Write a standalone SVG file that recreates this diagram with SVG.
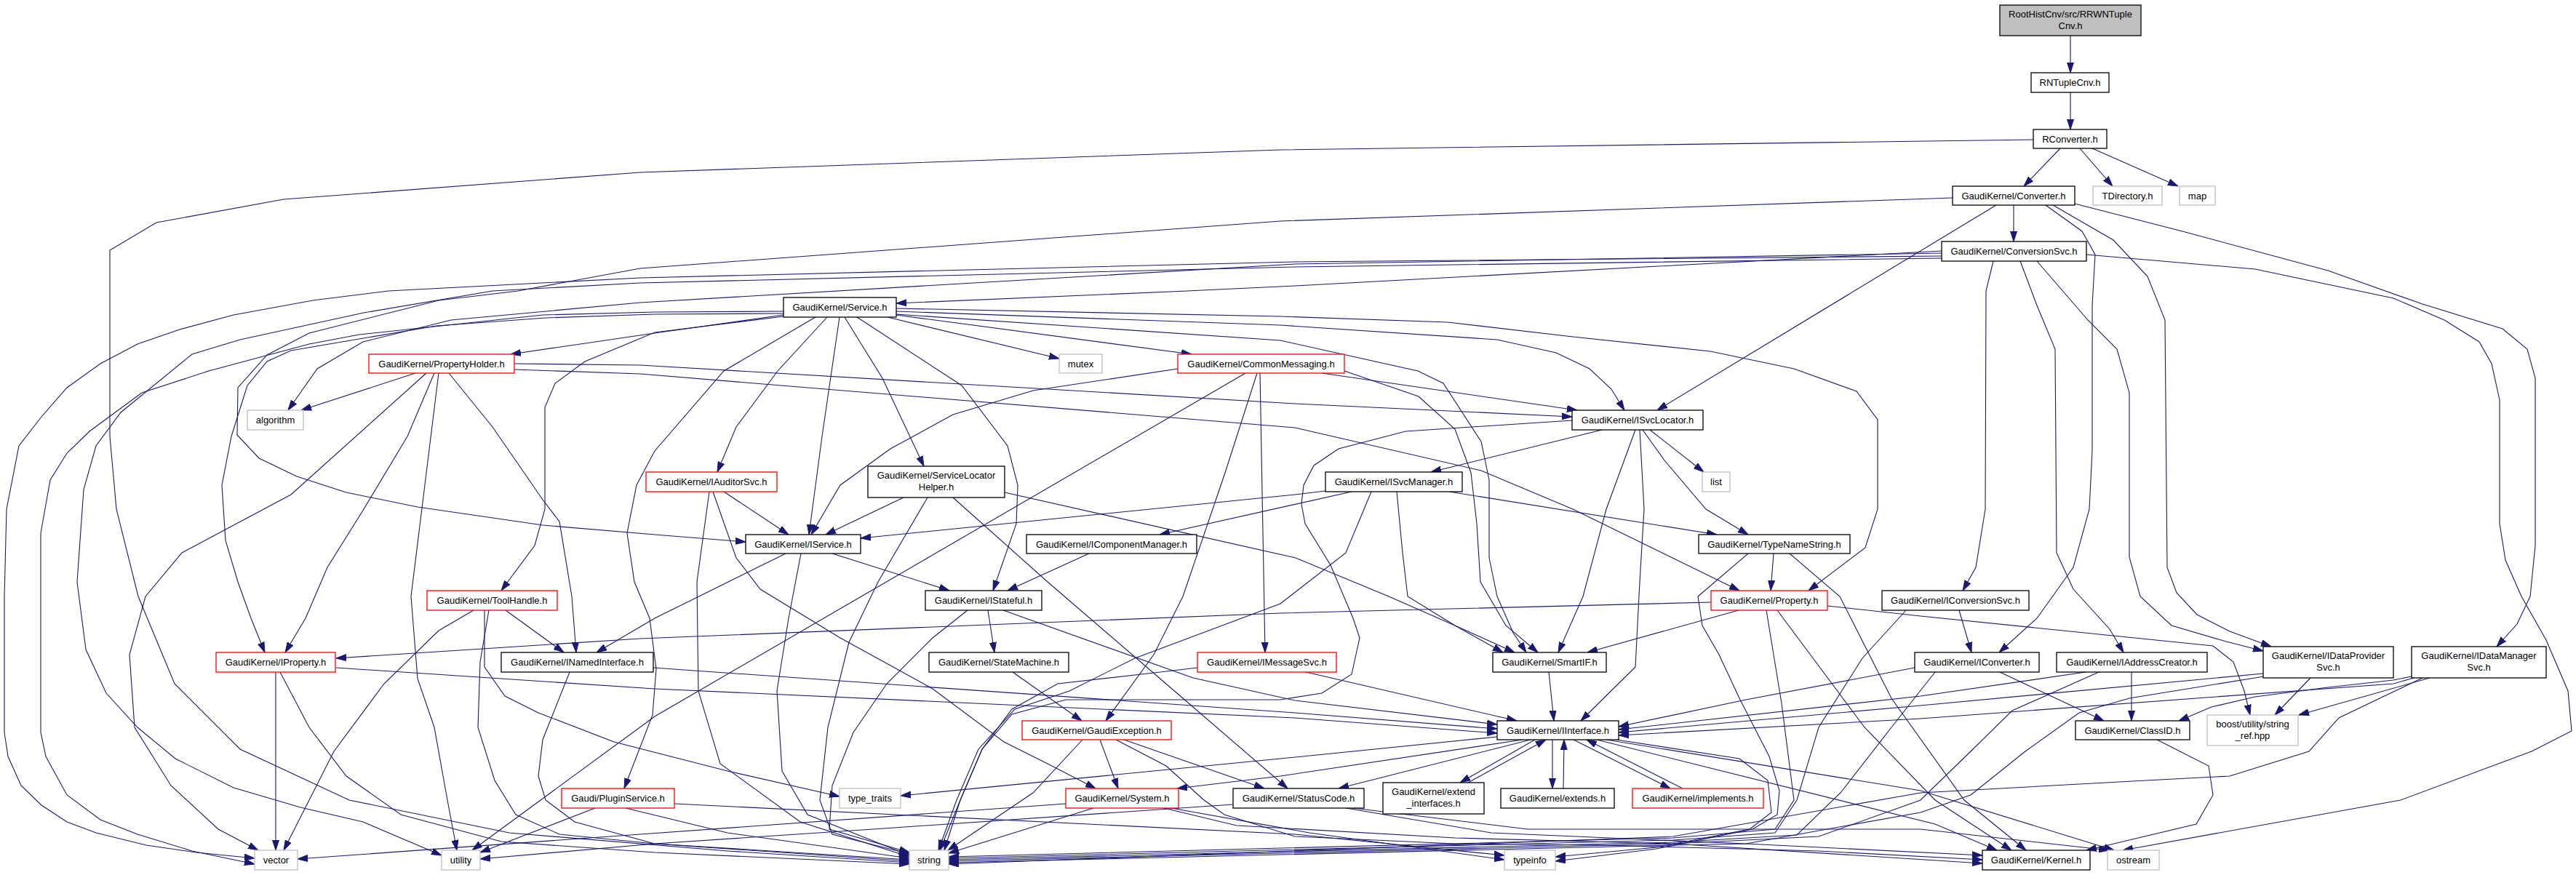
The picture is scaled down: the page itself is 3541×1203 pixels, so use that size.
<svg xmlns="http://www.w3.org/2000/svg" width="3541" height="1203" viewBox="0 0 3541 1203">
<defs>
<style>
.e{fill:none;stroke:#191970;stroke-width:1.1}
rect{stroke-width:1.3}
.n{fill:#fff;stroke:#000}
.r{fill:#fff;stroke:#f00}
.g{fill:#fff;stroke:#bfbfbf}
.root{fill:#bfbfbf;stroke:#000}
text{font-family:"Liberation Sans",Arial,Helvetica,sans-serif;font-size:13px;text-anchor:middle;fill:#000}
</style>
<marker id="ah" viewBox="0 0 14 10" refX="14" refY="5" markerWidth="14" markerHeight="10" markerUnits="userSpaceOnUse" orient="auto"><path d="M0,0.5 L14,5 L0,9.5 z" fill="#191970" stroke="#191970" stroke-width="1"/></marker>
</defs>
<rect x="0" y="0" width="3541" height="1203" fill="#fff" stroke="none"/>
<g id="edges" class="e" marker-end="url(#ah)">
<path d="M2846,49 L2846,100"/>
<path d="M2846,127 L2846,178"/>
<path d="M2832,204 L2782,256"/>
<path d="M2859,204 L2904,256"/>
<path d="M2876,204 L2994,256"/>
<path d="M2795,192 L1760,206 L880,237 L390,274 L215,306 L151,344 L151,600 L160,700 L190,820 L240,940 L330,1030 L480,1100 L700,1145 L1000,1170 L1250,1186"/>
<path d="M2768,282 L2768,332"/>
<path d="M2744,282 L2278,564"/>
<path d="M2812,282 L2862,318 L2880,350 L2876,420 L2876,620 L2872,700 L2850,780 L2800,850 L2748,897"/>
<path d="M2822,282 L2905,330 L2952,380 L2976,440 L2979,780 L2992,815 L3020,845 L3065,868 L3122,889"/>
<path d="M2852,280 L3000,318 L3200,372 L3330,418 L3440,452 L3474,480 L3485,520 L3485,750 L3478,820 L3460,858 L3432,889"/>
<path d="M2684,272 L1760,304 L880,369 L712,400 L603,413 L425,458 L367,488 L327,533 L326,598 L356,630 L408,655 L476,677 L574,697 L746,722 L900,735 L1025,745"/>
<path d="M2669,345 L1780,393 L1632,400 L1232,417"/>
<path d="M2740,359 L2730,400 L2729,700 L2716,780 L2698,812"/>
<path d="M2777,359 L2800,420 L2825,480 L2827,760 L2850,810 L2900,865 L2919,897"/>
<path d="M2800,359 L2870,440 L2910,480 L2927,540 L2927,766 L2942,820 L2985,860 L3060,882 L3111,895"/>
<path d="M2868,350 L3100,370 L3290,410 L3360,440 L3408,470 L3425,500 L3436,550 L3436,720 L3444,770 L3466,820 L3500,880 L3530,950 L3535,1005 L3480,1033 L3300,1100 L2918,1169"/>
<path d="M2669,352 L1780,360 L880,382 L534,400 L430,413 L321,433 L247,453 L189,473 L138,500 L92,533 L57,573 L26,613 L9,700 L6,820 L6,1007 L11,1040 L29,1080 L57,1107 L92,1130 L132,1145 L201,1162 L270,1172 L350,1180"/>
<path d="M2669,348 L1780,363 L880,416 L620,440 L499,470 L436,507 L396,564"/>
<path d="M2669,355 L1780,367 L880,389 L677,400 L500,430 L330,467 L264,487 L166,567 L132,613 L115,673 L106,800 L118,893 L146,953 L189,1000 L241,1043 L321,1083 L413,1110 L499,1130 L607,1176"/>
<path d="M1077,428 L900,429 L746,433 L494,460 L425,473 L287,510 L195,540 L123,593 L92,623 L69,660 L56,733 L56,1007 L63,1040 L92,1093 L138,1127 L189,1147 L264,1170 L350,1188"/>
<path d="M1077,431 L900,432 L750,437 L600,448 L470,470 L400,482 L367,497 L340,530 L318,600 L305,667 L310,743 L327,800 L345,850 L364,897"/>
<path d="M1077,433 L900,458 L702,487"/>
<path d="M1077,435 L900,457 L804,497 L763,527 L749,560 L749,700 L735,750 L689,812"/>
<path d="M1220,436 L1456,493"/>
<path d="M1232,433 L1638,487"/>
<path d="M1232,428 L1760,447 L2058,467 L2139,485 L2185,507 L2215,535 L2233,564"/>
<path d="M1232,424 L1760,435 L1990,443 L2162,463 L2351,483 L2466,507 L2552,538 L2581,577 L2581,700 L2564,753 L2486,812"/>
<path d="M1232,432 L1760,468 L1949,510 L1984,527 L2036,607 L2047,660 L2047,767 L2058,820 L2080,870 L2098,897"/>
<path d="M1137,436 L1069,510 L1012,587 L986,649"/>
<path d="M1154,436 L1130,600 L1112,735"/>
<path d="M1161,436 L1213,520 L1270,641"/>
<path d="M1178,436 L1322,530 L1385,613 L1399,667 L1397,720 L1365,812"/>
<path d="M1121,436 L995,510 L900,620 L875,667 L862,733 L872,800 L893,850 L902,920 L897,983 L858,1084"/>
<path d="M571,513 L414,564"/>
<path d="M597,513 L560,600 L500,700 L450,780 L420,850 L392,897"/>
<path d="M617,513 L677,587 L746,687 L769,717 L786,820 L792,897"/>
<path d="M586,513 L400,680 L250,760 L200,820 L178,900 L185,1000 L235,1080 L300,1140 L355,1169"/>
<path d="M603,513 L565,820 L574,933 L597,1000 L615,1100 L628,1169"/>
<path d="M707,500 L880,502 L1780,555 L2161,573"/>
<path d="M707,508 L880,514 L1780,588 L2036,647 L2162,700 L2391,812"/>
<path d="M1619,507 L1420,537 L1310,570 L1224,617 L1155,667 L1115,735"/>
<path d="M1817,513 L2168,564"/>
<path d="M1732,513 L1739,897"/>
<path d="M1728,513 L1684,650 L1626,820 L1586,900 L1520,991"/>
<path d="M1712,513 L1184,820 L900,985 L649,1169"/>
<path d="M1848,510 L1950,545 L2000,590 L2022,650 L2030,720 L2035,800 L2070,860 L2114,897"/>
<path d="M2202,591 L1967,649"/>
<path d="M2268,591 L2342,649"/>
<path d="M2258,591 L2288,633 L2345,700 L2403,735"/>
<path d="M2248,591 L2208,700 L2176,820 L2142,897"/>
<path d="M2254,591 L2260,700 L2254,800 L2248,917 L2173,991"/>
<path d="M2161,578 L1932,593 L1840,617 L1806,640 L1792,667 L1789,693 L1794,720 L1829,777 L1860,850 L1869,877 L1858,927 L1817,953 L1760,962 L1465,962 L1391,982 L1350,1030 L1320,1100 L1298,1169"/>
<path d="M1822,675 L1780,680 L1183,740"/>
<path d="M1858,676 L1594,735"/>
<path d="M1992,676 L2360,735"/>
<path d="M1920,676 L1928,760 L1935,820 L2000,860 L2082,897"/>
<path d="M1885,676 L1850,760 L1760,830 L1640,875 L1560,905 L1470,950 L1395,975 L1345,1030 L1315,1100 L1290,1169"/>
<path d="M1497,761 L1385,812"/>
<path d="M2438,761 L2434,812"/>
<path d="M2403,761 L2334,820 L2340,860 L2363,900 L2391,960 L2432,1040 L2446,1087 L2443,1120 L2409,1140 L2277,1167 L2138,1184"/>
<path d="M2352,828 L1760,843 L880,878 L462,905"/>
<path d="M2390,839 L2182,897"/>
<path d="M2512,833 L2640,847 L3042,888 L3070,910 L3085,950 L3093,983"/>
<path d="M2428,839 L2449,967 L2466,1100 L2440,1140 L2300,1152 L1304,1178"/>
<path d="M2443,839 L2563,1000 L2660,1100 L2765,1169"/>
<path d="M2693,839 L2710,897"/>
<path d="M2620,839 L2560,905 L2500,1000 L2470,1100 L2440,1145 L2300,1155 L1304,1180"/>
<path d="M2632,918 L2400,962 L2225,999"/>
<path d="M2749,924 L2892,991"/>
<path d="M2660,924 L2600,1000 L2530,1090 L2470,1148 L2300,1158 L1304,1182"/>
<path d="M2930,924 L2930,991"/>
<path d="M2867,924 L2640,957 L2225,1003"/>
<path d="M2885,924 L2766,977 L2709,1033 L2640,1100 L2500,1150 L2300,1160 L1304,1184"/>
<path d="M3176,932 L3127,983"/>
<path d="M3111,926 L2640,970 L2225,1007"/>
<path d="M3112,930 L2927,960 L2858,980 L2784,1033 L2709,1093 L2640,1117 L2400,1160 L2300,1162 L1304,1186"/>
<path d="M3315,930 L3290,935 L3200,945 L3100,958 L3040,972 L2995,991"/>
<path d="M3340,932 L3160,983"/>
<path d="M3318,932 L3290,940 L2640,988 L2225,1011"/>
<path d="M3330,932 L3215,987 L3174,1033 L3065,1067 L2950,1073 L2640,1090 L2300,1150 L1304,1188"/>
<path d="M1488,1017 L1420,1090 L1303,1169"/>
<path d="M1512,1017 L1537,1084"/>
<path d="M1545,1017 L1738,1084"/>
<path d="M1534,1017 L1603,1053 L1655,1100 L1683,1120 L1780,1150 L2000,1160 L2200,1162 L2500,1170 L2725,1182"/>
<path d="M1503,1111 L1304,1173"/>
<path d="M1465,1105 L880,1147 L409,1181"/>
<path d="M1600,1111 L1700,1135 L2000,1152 L2300,1160 L2725,1187"/>
<path d="M1610,1111 L1800,1145 L2068,1182"/>
<path d="M1850,1111 L2050,1145 L2400,1160 L2725,1176"/>
<path d="M1860,1111 L2100,1140 L2640,1140 L2899,1169"/>
<path d="M1695,1106 L1200,1140 L900,1160 L660,1181"/>
<path d="M2104,1017 L1840,1084"/>
<path d="M2093,1017 L1760,1067 L1618,1084"/>
<path d="M2058,1013 L1760,1043 L1238,1094"/>
<path d="M2110,1017 L2007,1076"/>
<path d="M2018,1076 L2125,1017"/>
<path d="M2134,1017 L2134,1084"/>
<path d="M2149,1084 L2150,1017"/>
<path d="M2163,1017 L2296,1084"/>
<path d="M2313,1084 L2181,1017"/>
<path d="M2222,1017 L2391,1043 L2430,1073 L2435,1117 L2405,1140 L2277,1165 L2138,1178"/>
<path d="M2195,1017 L2660,1133 L2745,1169"/>
<path d="M2208,1017 L2640,1087 L2906,1169"/>
<path d="M2129,924 L2136,991"/>
<path d="M1358,839 L1367,897"/>
<path d="M1392,924 L1487,991"/>
<path d="M1379,839 L1640,932 L1780,963 L2058,996"/>
<path d="M1330,839 L1282,877 L1219,940 L1173,1007 L1144,1080 L1140,1140 L1250,1172"/>
<path d="M1795,924 L2085,991"/>
<path d="M1646,918 L1569,927 L1454,940 L1391,975 L1350,1030 L1320,1100 L1292,1169"/>
<path d="M1080,761 L900,850 L820,897"/>
<path d="M1144,761 L1305,812"/>
<path d="M1101,761 L1084,850 L1068,950 L1075,1060 L1110,1120 L1250,1176"/>
<path d="M995,676 L1084,735"/>
<path d="M975,676 L958,800 L960,950 L990,1050 L1100,1130 L1250,1178"/>
<path d="M980,676 L1012,767 L1045,810 L1155,877 L1282,947 L1380,1020 L1440,1050 L1506,1084"/>
<path d="M1242,684 L1135,735"/>
<path d="M1381,677 L1781,767 L1909,820 L2000,860 L2066,897"/>
<path d="M1275,684 L1207,800 L1167,883 L1138,1000 L1127,1100 L1144,1147 L1250,1174"/>
<path d="M1310,684 L1440,800 L1626,960 L1770,1084"/>
<path d="M695,839 L775,897"/>
<path d="M651,839 L603,867 L528,940 L459,1033 L390,1169"/>
<path d="M666,839 L666,917 L694,957 L740,980 L844,1020 L1000,1060 L1154,1095"/>
<path d="M672,839 L660,910 L657,1000 L680,1073 L709,1120 L769,1147 L900,1160 L1250,1182"/>
<path d="M379,924 L379,1169"/>
<path d="M385,924 L425,1000 L476,1067 L551,1120 L689,1157 L900,1172 L1250,1188"/>
<path d="M462,918 L900,947 L1780,987 L2058,1008"/>
<path d="M898,918 L1780,980 L2058,1002"/>
<path d="M783,924 L746,1017 L740,1067 L750,1100 L790,1130 L900,1160 L1250,1184"/>
<path d="M818,1111 L660,1172"/>
<path d="M860,1111 L1000,1145 L1250,1180"/>
<path d="M927,1105 L1780,1147 L2068,1176"/>
<path d="M2965,1017 L3036,1053 L3042,1093 L3019,1133 L2868,1169"/>
<path d="M2460,761 L2529,820 L2600,960 L2700,1100 L2785,1169"/>
</g>
<g id="n1"><rect class="root" x="2749" y="7" width="194" height="42"/><text x="2846" y="24">RootHistCnv/src/RRWNTuple</text><text x="2846" y="40">Cnv.h</text></g>
<g id="n2"><rect class="n" x="2792" y="100" width="107" height="27"/><text x="2845.5" y="118">RNTupleCnv.h</text></g>
<g id="n3"><rect class="n" x="2795" y="178" width="101" height="26"/><text x="2845.5" y="195.5">RConverter.h</text></g>
<g id="n4"><rect class="n" x="2684" y="256" width="168" height="26"/><text x="2768" y="273.5">GaudiKernel/Converter.h</text></g>
<g id="n5"><rect class="g" x="2877" y="256" width="95" height="26"/><text x="2924.5" y="273.5">TDirectory.h</text></g>
<g id="n6"><rect class="g" x="2996" y="256" width="49" height="26"/><text x="3020.5" y="273.5">map</text></g>
<g id="n7"><rect class="n" x="2669" y="332" width="199" height="27"/><text x="2768.5" y="350">GaudiKernel/ConversionSvc.h</text></g>
<g id="n8"><rect class="n" x="1077" y="409" width="155" height="27"/><text x="1154.5" y="427">GaudiKernel/Service.h</text></g>
<g id="n9"><rect class="r" x="507" y="487" width="200" height="26"/><text x="607" y="504.5">GaudiKernel/PropertyHolder.h</text></g>
<g id="n10"><rect class="g" x="340" y="564" width="77" height="27"/><text x="378.5" y="582">algorithm</text></g>
<g id="n11"><rect class="g" x="1456" y="487" width="59" height="26"/><text x="1485.5" y="504.5">mutex</text></g>
<g id="n12"><rect class="r" x="1619" y="487" width="229" height="26"/><text x="1733.5" y="504.5">GaudiKernel/CommonMessaging.h</text></g>
<g id="n13"><rect class="n" x="2161" y="564" width="180" height="27"/><text x="2251" y="582">GaudiKernel/ISvcLocator.h</text></g>
<g id="n14"><rect class="g" x="2340" y="649" width="38" height="27"/><text x="2359" y="667">list</text></g>
<g id="n15"><rect class="r" x="888" y="649" width="180" height="27"/><text x="978" y="667">GaudiKernel/IAuditorSvc.h</text></g>
<g id="n16"><rect class="n" x="1193" y="641" width="188" height="43"/><text x="1287" y="658">GaudiKernel/ServiceLocator</text><text x="1287" y="674">Helper.h</text></g>
<g id="n17"><rect class="n" x="1822" y="649" width="188" height="27"/><text x="1916" y="667">GaudiKernel/ISvcManager.h</text></g>
<g id="n18"><rect class="n" x="1025" y="735" width="158" height="26"/><text x="1104" y="752.5">GaudiKernel/IService.h</text></g>
<g id="n19"><rect class="n" x="1411" y="735" width="234" height="26"/><text x="1528" y="752.5">GaudiKernel/IComponentManager.h</text></g>
<g id="n20"><rect class="n" x="2335" y="735" width="208" height="26"/><text x="2439" y="752.5">GaudiKernel/TypeNameString.h</text></g>
<g id="n21"><rect class="r" x="587" y="812" width="179" height="27"/><text x="676.5" y="830">GaudiKernel/ToolHandle.h</text></g>
<g id="n22"><rect class="n" x="1272" y="812" width="160" height="27"/><text x="1352" y="830">GaudiKernel/IStateful.h</text></g>
<g id="n23"><rect class="r" x="2352" y="812" width="160" height="27"/><text x="2432" y="830">GaudiKernel/Property.h</text></g>
<g id="n24"><rect class="n" x="2587" y="812" width="202" height="27"/><text x="2688" y="830">GaudiKernel/IConversionSvc.h</text></g>
<g id="n25"><rect class="r" x="297" y="897" width="164" height="27"/><text x="379" y="915">GaudiKernel/IProperty.h</text></g>
<g id="n26"><rect class="n" x="689" y="897" width="209" height="27"/><text x="793.5" y="915">GaudiKernel/INamedInterface.h</text></g>
<g id="n27"><rect class="n" x="1277" y="897" width="192" height="27"/><text x="1373" y="915">GaudiKernel/StateMachine.h</text></g>
<g id="n28"><rect class="r" x="1646" y="897" width="191" height="27"/><text x="1741.5" y="915">GaudiKernel/IMessageSvc.h</text></g>
<g id="n29"><rect class="n" x="2052" y="897" width="156" height="27"/><text x="2130" y="915">GaudiKernel/SmartIF.h</text></g>
<g id="n30"><rect class="n" x="2632" y="897" width="171" height="27"/><text x="2717.5" y="915">GaudiKernel/IConverter.h</text></g>
<g id="n31"><rect class="n" x="2827" y="897" width="207" height="27"/><text x="2930.5" y="915">GaudiKernel/IAddressCreator.h</text></g>
<g id="n32"><rect class="n" x="3111" y="889" width="179" height="43"/><text x="3200.5" y="906">GaudiKernel/IDataProvider</text><text x="3200.5" y="922">Svc.h</text></g>
<g id="n33"><rect class="n" x="3315" y="889" width="185" height="43"/><text x="3407.5" y="906">GaudiKernel/IDataManager</text><text x="3407.5" y="922">Svc.h</text></g>
<g id="n34"><rect class="r" x="1405" y="991" width="205" height="26"/><text x="1507.5" y="1008.5">GaudiKernel/GaudiException.h</text></g>
<g id="n35"><rect class="n" x="2058" y="991" width="167" height="26"/><text x="2141.5" y="1008.5">GaudiKernel/IInterface.h</text></g>
<g id="n36"><rect class="n" x="2853" y="991" width="157" height="26"/><text x="2931.5" y="1008.5">GaudiKernel/ClassID.h</text></g>
<g id="n37"><rect class="g" x="3034" y="983" width="125" height="42"/><text x="3096.5" y="1000">boost/utility/string</text><text x="3096.5" y="1016">_ref.hpp</text></g>
<g id="n38"><rect class="r" x="772" y="1084" width="155" height="27"/><text x="849.5" y="1102">Gaudi/PluginService.h</text></g>
<g id="n39"><rect class="g" x="1154" y="1084" width="84" height="27"/><text x="1196" y="1102">type_traits</text></g>
<g id="n40"><rect class="r" x="1465" y="1084" width="155" height="27"/><text x="1542.5" y="1102">GaudiKernel/System.h</text></g>
<g id="n41"><rect class="n" x="1695" y="1084" width="180" height="27"/><text x="1785" y="1102">GaudiKernel/StatusCode.h</text></g>
<g id="n42"><rect class="n" x="1901" y="1076" width="139" height="43"/><text x="1970.5" y="1093">GaudiKernel/extend</text><text x="1970.5" y="1109">_interfaces.h</text></g>
<g id="n43"><rect class="n" x="2063" y="1084" width="156" height="27"/><text x="2141" y="1102">GaudiKernel/extends.h</text></g>
<g id="n44"><rect class="r" x="2244" y="1084" width="180" height="27"/><text x="2334" y="1102">GaudiKernel/implements.h</text></g>
<g id="n45"><rect class="g" x="350" y="1169" width="59" height="27"/><text x="379.5" y="1187">vector</text></g>
<g id="n46"><rect class="g" x="607" y="1169" width="53" height="27"/><text x="633.5" y="1187">utility</text></g>
<g id="n47"><rect class="g" x="1250" y="1169" width="54" height="27"/><text x="1277" y="1187">string</text></g>
<g id="n48"><rect class="g" x="2068" y="1169" width="70" height="27"/><text x="2103" y="1187">typeinfo</text></g>
<g id="n49"><rect class="n" x="2725" y="1169" width="148" height="27"/><text x="2799" y="1187">GaudiKernel/Kernel.h</text></g>
<g id="n50"><rect class="g" x="2897" y="1169" width="71" height="27"/><text x="2932.5" y="1187">ostream</text></g>
</svg>
